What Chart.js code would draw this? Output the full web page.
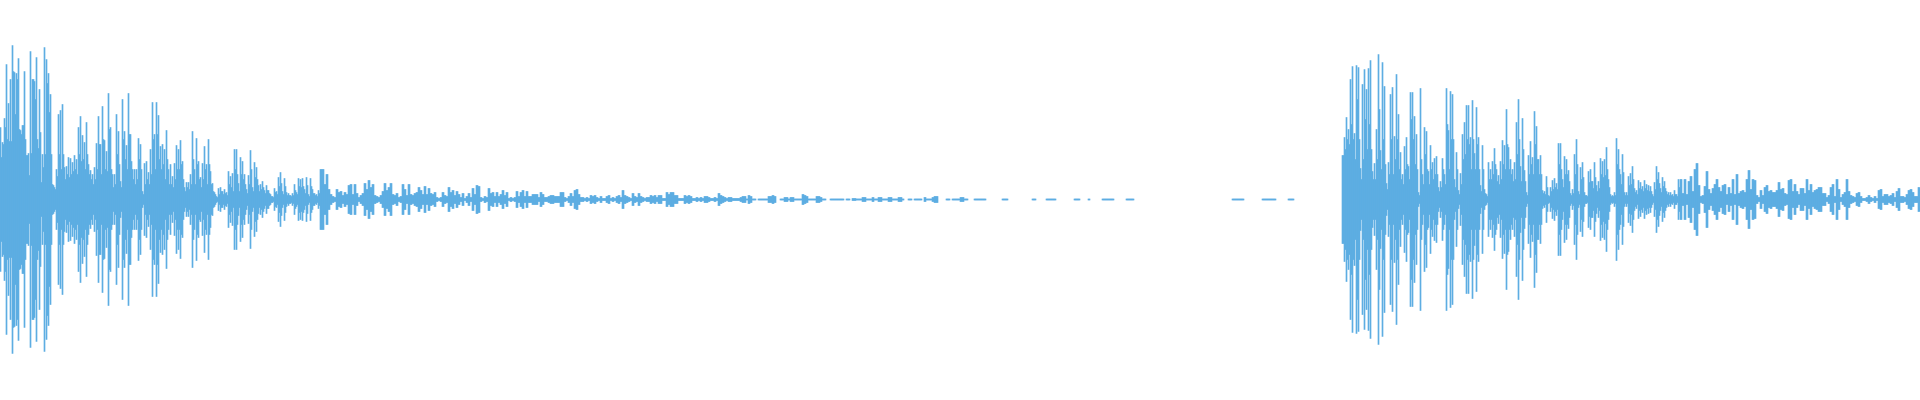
<!DOCTYPE html>
<html>
<head>
<meta charset="utf-8">
<title>Waveform</title>
<style>
  html, body { margin: 0; padding: 0; background: #fff; }
  #wrap { width: 1920px; height: 400px; }
</style>
<script src="https://cdn.jsdelivr.net/npm/chart.js@4/dist/chart.umd.min.js"></script>
</head>
<body>
<div id="wrap"><canvas id="wave"></canvas></div>
<script>
// peak amplitude per column, null = no signal
const firstHit = [
  72,57,81,135,96,120,154,127,126,141,
  69,74,128,44,46,148,120,118,142,51,
  67,45,152,140,126,105,15,12,30,85,
  89,95,32,33,42,41,37,44,40,72,
  83,64,57,77,35,29,25,32,56,83,
  55,93,59,48,106,72,25,25,85,68,
  18,100,68,54,106,65,30,30,30,61,
  55,8,36,38,27,50,97,65,97,84,
  53,55,50,69,30,35,23,36,54,50,
  59,38,12,17,17,25,68,30,61,38,
  22,36,53,35,60,28,16,7,3,11,
  12,8,10,7,28,23,26,50,50,16,
];
const firstTail = [
  42,38,25,10,24,49,12,37,32,14,
  15,18,9,14,9,5,3,11,8,22,
  27,8,21,7,6,4,6,15,7,21,
  20,21,10,22,5,21,10,6,5,9,
  30,30,15,25,10,5,3,2,10,7,
  8,4,7,5,14,15,5,15,6,2,
  4,6,16,10,19,12,15,4,3,2,
  4,8,16,9,12,16,5,4,6,2,
  3,15,10,4,15,5,4,6,7,12,
  9,5,13,5,11,6,5,7,2,1,
  2,7,4,3,12,7,9,4,8,5,
  2,6,1,3,6,2,11,5,14,13,
  2,1,3,2,11,6,7,3,7,3,
  5,9,4,7,1,2,1,2,8,3,
  7,9,3,8,3,3,5,5,5,2,
  7,5,2,2,3,4,4,3,3,3,
  7,7,2,1,3,6,3,9,10,5,
  2,2,1,2,1,4,3,4,2,1,
  3,1,1,3,4,1,2,1,3,4,
  2,9,4,3,2,1,6,3,2,6,
];
const fadeOut = [
  3,2,1,2,2,4,3,4,2,4,
  4,1,1,7,5,7,7,4,4,1,
  1,1,4,3,4,3,1,1,2,1,
  2,1,3,3,2,1,1,2,1,6,
  4,3,2,1,2,2,1,1,1,1,
  2,3,3,.5,4,3,.5,.5,null,.5,
  .5,.5,.5,.5,3,3,4,3,null,null,
  .5,.5,2,2,.5,2,2,.5,.5,.5,
  .5,5,4,3,.5,.5,.5,.5,3,3,
  2,.5,.5,null,null,.5,.5,.5,.5,.5,
  .5,.5,null,.5,.5,null,1,1,.5,.5,
  .5,2,2,.5,.5,.5,2,.5,.5,2,
  2,.5,.5,.5,2,2,.5,.5,.5,2,
  2,.5,null,null,.5,.5,null,.5,.5,.5,
  .5,null,2,.5,.5,.5,2,3,3,null,
  null,null,null,.5,.5,null,.5,.5,.5,.5,
  2,2,.5,.5,null,null,null,.5,
];
const quiet = [
  .5,.5,.5,.5,.5,null,null,null,null,null,
  null,null,null,.5,.5,.5,null,null,null,null,
  null,null,null,null,null,null,null,null,.5,.5,
  null,null,null,null,null,.5,.5,.5,.5,.5,
  null,null,null,null,null,null,null,null,null,.5,
  .5,.5,null,null,null,null,.5,null,null,null,
  null,null,null,.5,.5,.5,.5,.5,.5,null,
  null,null,null,null,null,.5,.5,.5,.5,null,
  null,null,null,null,null,null,null,null,null,null,
  null,null,null,null,null,null,null,null,null,null,
  null,null,null,null,null,null,null,null,null,null,
  null,null,null,null,null,null,null,null,null,null,
  null,null,null,null,null,null,null,null,.5,.5,
  .5,.5,.5,.5,null,null,null,null,null,null,
  null,null,null,.5,.5,.5,.5,.5,.5,.5,
  null,null,null,null,null,null,.5,.5,.5,null,
  null,null,null,null,null,null,null,null,null,null,
  null,null,null,null,null,null,null,null,null,null,
  null,null,null,
];
const secondHit = [
  44,62,82,70,120,133,66,134,132,31,
  115,130,110,131,139,28,36,70,145,49,
  137,113,16,37,105,112,63,125,85,47,
  25,53,62,33,107,107,83,65,7,111,
  25,72,68,28,54,37,41,43,12,18,
  41,25,111,69,108,105,20,47,9,26,
  65,77,94,94,62,99,46,92,62,14,
  54,10,5,37,30,38,51,30,24,38,
  59,54,90,52,40,30,37,77,100,33,
  81,29,7,44,58,42,88,73,40,44,
  9,8,23,4,12,19,21,16,56,
];
const secondTail = [
  56,20,43,40,29,6,10,45,60,8,
  32,37,7,4,28,30,18,37,14,18,
  41,38,40,52,20,5,4,7,61,50,
  25,45,7,7,23,26,33,11,9,19,
  17,13,19,15,14,13,5,17,33,27,
  11,22,18,8,7,7,5,9,5,20,
  20,6,20,5,18,23,8,30,36,14,
  3,4,13,28,10,6,11,15,20,12,
  8,14,15,5,12,6,20,5,25,6,
  8,9,7,20,29,10,20,19,4,2,
  9,4,12,14,8,9,7,7,9,17,
  10,11,6,5,19,20,8,15,8,5,
  11,11,6,20,9,15,7,9,10,12,
  12,6,6,2,4,12,15,3,20,10,
  2,5,7,20,8,4,3,2,6,7,
  3,1,1,2,4,2,1,3,1,9,
  10,3,5,5,3,4,6,2,8,11,
  3,3,2,5,9,10,7,3,3,12,
];

// second pixel of each column, lower than the spike beside it
const firstHitBody = [
  42,55,72,60,58,58,128,85,120,70,
  65,74,60,44,24,46,120,100,60,110,
  17,32,45,116,87,45,14,10,23,45,
  30,45,20,25,22,25,28,30,25,45,
  38,40,30,45,25,20,15,20,30,55,
  25,60,30,28,70,30,12,15,45,35,
  12,60,40,30,65,38,20,15,20,40,
  30,5,15,20,15,25,60,30,65,40,
  30,35,20,40,15,15,12,20,30,30,
  35,20,8,12,10,15,40,15,35,20,
  12,20,30,15,35,15,8,5,2,5,
  8,5,6,4,15,12,8,30,25,8,
];
const firstTailBody = [
  25,20,15,6,15,30,8,22,20,8,
  10,12,6,9,6,3,2,7,5,13,
  16,5,13,4,4,3,4,9,5,13,
  12,13,6,14,3,13,6,4,3,6,
];
const secondHitBody = [
  44,50,60,55,75,60,40,100,60,20,
  40,80,50,75,50,20,20,40,90,30,
  60,35,10,25,60,25,40,60,30,20,
  15,30,35,20,80,60,35,30,4,40,
  15,45,30,15,30,20,25,25,8,12,
  30,15,75,30,60,60,12,30,5,15,
  40,45,60,55,30,60,30,55,30,8,
  30,6,3,20,20,25,35,18,15,20,
  35,30,55,30,25,18,20,45,60,18,
  50,18,4,25,35,25,55,40,25,25,
  6,5,12,3,8,10,12,10,35,
];
const secondTailBody = [
  30,12,25,25,18,4,6,25,35,5,
  20,22,4,3,17,18,11,22,8,11,
  25,22,24,30,12,3,3,4,35,30,
  15,27,4,4,14,15,20,7,5,11,
  10,8,11,9,8,8,3,10,20,16,
  7,13,11,5,4,4,3,5,3,12,
];

const amplitude = [...firstHit, ...firstTail, ...fadeOut, ...quiet, ...secondHit, ...secondTail];
const columns = amplitude.map((_, i) => i);
const bodyStart = firstHit.length + firstTailBody.length;
const bodyGap = Array(671 - bodyStart).fill(null); // quiet part: both pixels reach the peak
const body = [...firstHitBody, ...firstTailBody, ...bodyGap, ...secondHitBody, ...secondTailBody];
const WAVE = "#5dade2";
const span = (a) => (a === null ? null : [-a, a]);

new Chart(document.getElementById("wave"), {
  type: "bar",
  data: {
    labels: columns,
    datasets: [
      { data: amplitude.map(span), backgroundColor: WAVE }, // left pixel: the full peak
      { data: amplitude.map((a, i) => span(body[i] == null ? a : body[i])), backgroundColor: WAVE }, // right pixel
    ],
  },
  options: {
    responsive: true,
    maintainAspectRatio: false,
    animation: false,
    events: [],
    layout: { padding: 0 },
    datasets: {
      bar: { borderWidth: 0, barPercentage: 1, categoryPercentage: 1 },
    },
    plugins: { legend: { display: false }, tooltip: { enabled: false } },
    scales: {
      x: { display: false },
      // half a pixel off so the 1px quiet dashes land on one row
      y: { display: false, min: -200.5, max: 199.5 },
    },
  },
});
</script>
</body>
</html>
